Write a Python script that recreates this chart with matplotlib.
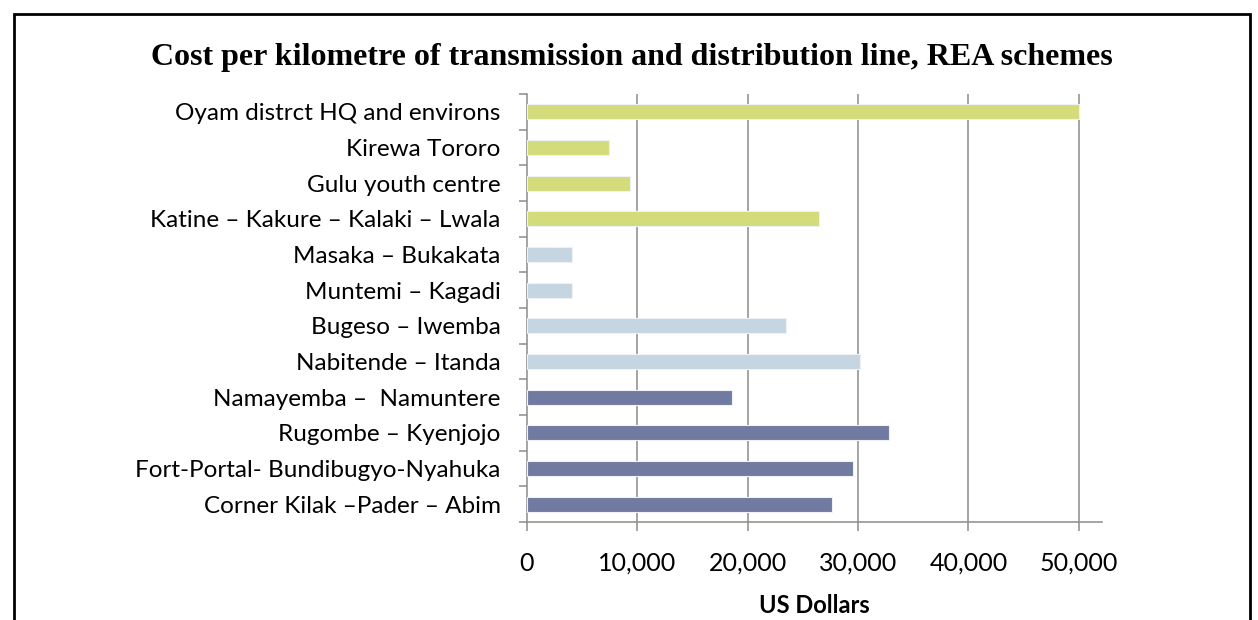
import numpy as np
import matplotlib
matplotlib.use("Agg")
import matplotlib.pyplot as plt
from matplotlib.patches import Rectangle

# Data, top to bottom
schemes = [
    "Oyam distrct HQ and environs",
    "Kirewa Tororo",
    "Gulu youth centre",
    "Katine \u2013 Kakure \u2013 Kalaki \u2013 Lwala",
    "Masaka \u2013 Bukakata",
    "Muntemi \u2013 Kagadi",
    "Bugeso \u2013 Iwemba",
    "Nabitende \u2013 Itanda",
    "Namayemba \u2013  Namuntere",
    "Rugombe \u2013 Kyenjojo",
    "Fort-Portal- Bundibugyo-Nyahuka",
    "Corner Kilak \u2013Pader \u2013 Abim",
]
cost_usd = [50000, 7400, 9300, 26500, 4100, 4100, 23450, 30200, 18600, 32800, 29500, 27600]
groups = ["A", "A", "A", "A", "B", "B", "B", "B", "C", "C", "C", "C"]
group_colors = {"A": "#d4db7a", "B": "#c5d5e2", "C": "#717ba2"}
x_ticks = [0, 10000, 20000, 30000, 40000, 50000]

label_font = ["Lato", "DejaVu Sans"]

fig = plt.figure(figsize=(12.58, 6.2), dpi=100)
ax = fig.add_axes([527 / 1258, 1 - 522 / 620, (1102 - 527) / 1258, (522 - 94) / 620])

ypos = np.arange(len(schemes))
colors = [group_colors[g] for g in groups]
ax.barh(ypos, cost_usd, height=0.42, color=colors, edgecolor="#eef1f6",
        linewidth=0.8, zorder=3)

ax.set_ylim(len(schemes) - 0.5, -0.5)
ax.set_xlim(0, 52100)

# gridlines only at 10k..50k
for v in x_ticks[1:]:
    ax.axvline(v, color="#8c8c8c", linewidth=1.1, zorder=1)

ax.set_xticks(x_ticks)
ax.set_xticklabels([f"{v:,}" for v in x_ticks], fontsize=18, family=label_font)
ax.tick_params(axis="x", direction="out", length=6.5, width=1.1, color="#8c8c8c", pad=15)

ax.set_yticks(ypos)
ax.set_yticklabels(schemes, fontsize=17.5, family=label_font)
ax.tick_params(axis="y", which="major", length=0, pad=19)
ax.set_yticks(np.arange(-0.5, len(schemes), 1), minor=True)
ax.tick_params(axis="y", which="minor", direction="out", length=6, width=1.1, color="#8c8c8c")

for s in ["top", "right"]:
    ax.spines[s].set_visible(False)
for s in ["left", "bottom"]:
    ax.spines[s].set_color("#8c8c8c")
    ax.spines[s].set_linewidth(1.1)

ax.set_xlabel("US Dollars", fontsize=17, fontweight="bold", family=label_font, labelpad=14)

fig.text(0.502, 1 - 57 / 620, "Cost per kilometre of transmission and distribution line, REA schemes",
         ha="center", va="center", fontsize=23, fontweight="bold", family="Liberation Serif")

# outer frame (runs off the bottom of the image)
fig.patches.append(Rectangle((14 / 1258, -0.1), (1250 - 14) / 1258, 1.1 - 14 / 620,
                             transform=fig.transFigure, fill=False, edgecolor="black",
                             linewidth=2, clip_on=False))

fig.savefig("out.png", dpi=100)
